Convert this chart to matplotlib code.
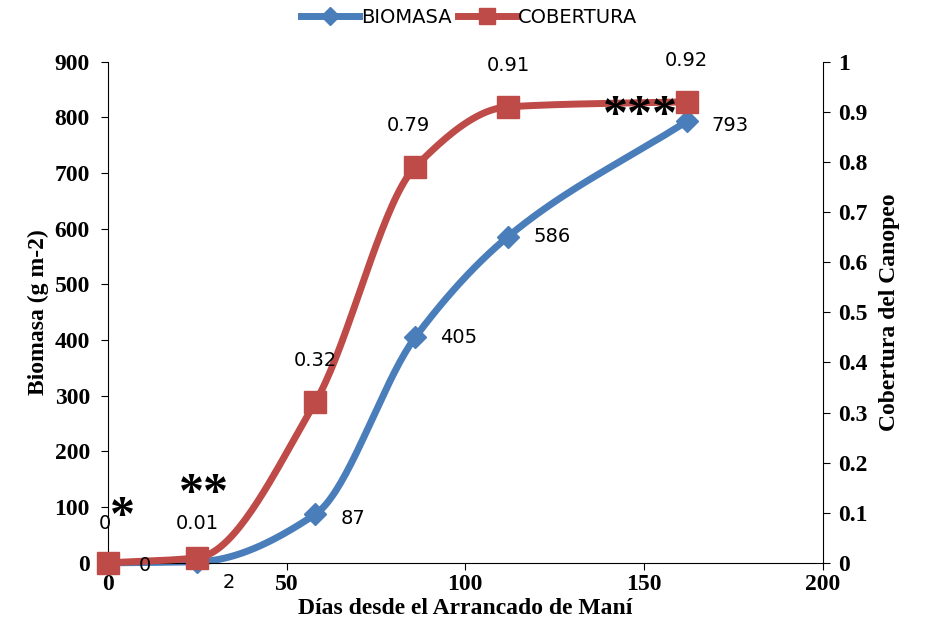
import numpy as np
import matplotlib.pyplot as plt

dias = [0, 25, 58, 86, 112, 162]
biomasa = [0, 2, 87, 405, 586, 793]
cobertura = [0, 0.01, 0.32, 0.79, 0.91, 0.92]
bio_labels = ['0', '2', '87', '405', '586', '793']
cob_labels = ['0', '0.01', '0.32', '0.79', '0.91', '0.92']

AZUL = '#4a7ebb'
ROJO = '#be4b48'


def suavizar(x, y, n=40):
    # monotone cubic (Fritsch-Carlson) to draw a smooth line through the points
    x = np.asarray(x, float)
    y = np.asarray(y, float)
    h = np.diff(x)
    d = np.diff(y) / h
    m = np.zeros_like(y)
    m[0], m[-1] = d[0], d[-1]
    for i in range(1, len(x) - 1):
        if d[i - 1] * d[i] > 0:
            w1 = 2 * h[i] + h[i - 1]
            w2 = h[i] + 2 * h[i - 1]
            m[i] = (w1 + w2) / (w1 / d[i - 1] + w2 / d[i])
    xs, ys = [], []
    t = np.linspace(0, 1, n)
    for i in range(len(x) - 1):
        h00 = 2 * t ** 3 - 3 * t ** 2 + 1
        h10 = t ** 3 - 2 * t ** 2 + t
        h01 = -2 * t ** 3 + 3 * t ** 2
        h11 = t ** 3 - t ** 2
        xs.extend(x[i] + t * h[i])
        ys.extend(h00 * y[i] + h10 * h[i] * m[i] + h01 * y[i + 1] + h11 * h[i] * m[i + 1])
    return xs, ys


fig = plt.figure(figsize=(9.38, 6.36), dpi=100)
ax = fig.add_axes([0.115, 0.115, 0.762, 0.788])
ax2 = ax.twinx()

sx, sy = suavizar(dias, biomasa)
ax.plot(sx, sy, color=AZUL, lw=5, zorder=2, clip_on=False)
ax.plot(dias, biomasa, 'D', color=AZUL, ms=11, zorder=3, clip_on=False)
sx, sy = suavizar(dias, cobertura)
ax2.plot(sx, sy, color=ROJO, lw=5, zorder=2, clip_on=False)
ax2.plot(dias, cobertura, 's', color=ROJO, ms=16, zorder=3, clip_on=False)

serif = 'Liberation Serif'
ax.set_xlim(0, 200)
ax.set_ylim(0, 900)
ax2.set_ylim(0, 1)
ax.set_xticks(range(0, 201, 50))
ax.set_yticks(range(0, 901, 100))
ax2.set_yticks(np.arange(0, 1.01, 0.1))
ax2.set_yticklabels(['0'] + ['%.1f' % v for v in np.arange(0.1, 0.95, 0.1)] + ['1'])
for a in (ax, ax2):
    for lab in a.get_xticklabels() + a.get_yticklabels():
        lab.set_fontfamily(serif)
        lab.set_fontweight('bold')
        lab.set_fontsize(17)
    for s in a.spines.values():
        s.set_visible(False)
    a.tick_params(length=0)
ax.spines['left'].set_visible(True)
ax.spines['bottom'].set_visible(True)
ax2.spines['right'].set_visible(True)
ax.tick_params(axis='y', length=5, direction='out', pad=8)
ax.tick_params(axis='x', length=5, direction='out', pad=3)
ax2.tick_params(axis='y', length=5, direction='out', pad=6)

ax.set_xlabel('Días desde el Arrancado de Maní', fontfamily=serif, fontweight='bold', fontsize=17, labelpad=2)
ax.set_ylabel('Biomasa (g m-2)', fontfamily=serif, fontweight='bold', fontsize=17, labelpad=4)
ax2.set_ylabel('Cobertura del Canopeo', fontfamily=serif, fontweight='bold', fontsize=17, labelpad=8)

bio_off = [(22, -2), (18, -15), (18, -3), (18, 0), (18, 0), (18, -3)]
for x, y, t, (dx, dy) in zip(dias, biomasa, bio_labels, bio_off):
    ax2.annotate(t, (x, y / 900), xytext=(dx, dy), textcoords='offset points',
                 fontsize=14, va='center', ha='left')
cob_off = [(-2, 28), (0, 25), (0, 30), (-5, 30), (0, 30), (0, 30)]
for x, y, t, (dx, dy) in zip(dias, cobertura, cob_labels, cob_off):
    ax2.annotate(t, (x, y), xytext=(dx, dy), textcoords='offset points',
                 fontsize=14, va='center', ha='center')

ax2.text(4, 0.09, '*', fontsize=36, fontfamily=serif, fontweight='bold', ha='center', va='center')
ax2.text(27, 0.135, '**', fontsize=36, fontfamily=serif, fontweight='bold', ha='center', va='center')
ax2.text(149, 0.89, '***', fontsize=36, fontfamily=serif, fontweight='bold', ha='center', va='center')

h1, = ax.plot([], [], color=AZUL, lw=5, marker='D', ms=9)
h2, = ax.plot([], [], color=ROJO, lw=5, marker='s', ms=11)
fig.legend([h1, h2], ['BIOMASA', 'COBERTURA'], loc='upper center', ncol=2, frameon=False,
           bbox_to_anchor=(0.5, 1.015), fontsize=14, handlelength=3, columnspacing=0.3, handletextpad=0.1)

fig.savefig('out.png', dpi=100)
